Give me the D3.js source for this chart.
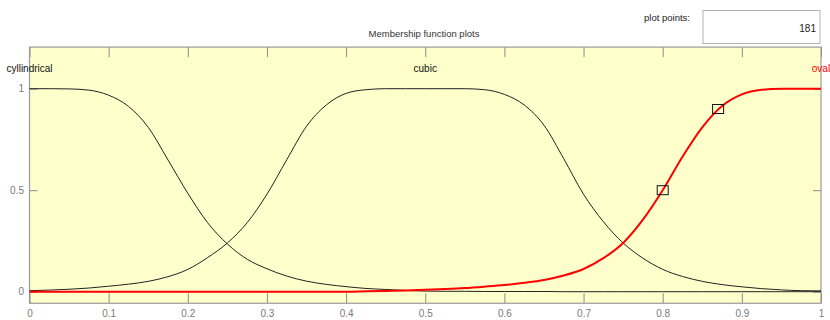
<!DOCTYPE html>
<html>
<head>
<meta charset="utf-8">
<script src="https://cdn.jsdelivr.net/npm/d3@7"></script>
<style>
  html, body { margin: 0; padding: 0; background: #ffffff; }
  svg { display: block; font-family: "Liberation Sans", Arial, sans-serif; }
</style>
</head>
<body>
<svg id="chart" width="830" height="320"></svg>
<script>
// ---- data ----
const xs = [0, 0.025, 0.05, 0.075, 0.1, 0.125, 0.15, 0.175, 0.2, 0.225, 0.25, 0.275, 0.3, 0.325, 0.35, 0.375, 0.4,
            0.425, 0.45, 0.475, 0.5, 0.525, 0.55, 0.575, 0.6, 0.625, 0.65, 0.675, 0.7, 0.725, 0.75, 0.775, 0.8,
            0.825, 0.85, 0.875, 0.9, 0.925, 0.95, 0.975, 1];
const cylindrical = [1, 1, 0.999, 0.993, 0.968, 0.913, 0.81, 0.649, 0.485, 0.34, 0.235, 0.16, 0.113, 0.077, 0.052, 0.036, 0.025,
                     0.016, 0.011, 0.006, 0.003, 0.002, 0.002, 0.001, 0.001, 0.001, 0.001, 0, 0, 0, 0, 0, 0,
                     0, 0, 0, 0, 0, 0, 0, 0];
const cubic = [0.005, 0.008, 0.012, 0.018, 0.027, 0.037, 0.051, 0.074, 0.11, 0.168, 0.24, 0.34, 0.48, 0.65, 0.815, 0.92, 0.977,
               0.995, 1, 1, 1, 1, 1, 0.995, 0.972, 0.92, 0.82, 0.655, 0.48, 0.345, 0.24, 0.165, 0.11,
               0.075, 0.051, 0.035, 0.024, 0.015, 0.009, 0.005, 0.004];
const oval = [0, 0, 0, 0, 0, 0, 0, 0, 0, 0, 0, 0, 0, 0, 0, 0, 0,
              0.002, 0.004, 0.006, 0.009, 0.013, 0.018, 0.025, 0.033, 0.044, 0.058, 0.08, 0.112, 0.165, 0.24, 0.355, 0.5,
              0.665, 0.81, 0.915, 0.972, 0.995, 1, 1, 1];
const mfNames = ["cyllindrical", "cubic", "oval"];
const mfCenters = [0, 0.5, 1];
const ovalMarkers = [[0.8, 0.5], [0.87, 0.9]];
const xTicks = [0, 0.1, 0.2, 0.3, 0.4, 0.5, 0.6, 0.7, 0.8, 0.9, 1];
const xTickLabels = ["0", "0.1", "0.2", "0.3", "0.4", "0.5", "0.6", "0.7", "0.8", "0.9", "1"];
const yTicks = [0, 0.5, 1];
const yTickLabels = ["0", "0.5", "1"];
const plotPoints = "181";

// ---- layout ----
const svg = d3.select("#chart");
const x = d3.scaleLinear().domain([0, 1]).range([29.5, 821]);
const y = d3.scaleLinear().domain([0, 1]).range([291.7, 88.7]);
const yTopVal = 1.205, yBotVal = -0.057;
const pL = x(0), pR = x(1), pT = y(yTopVal), pB = y(yBotVal);

// title
svg.append("text").attr("x", 424).attr("y", 37).attr("text-anchor", "middle")
  .attr("font-size", 9.5).attr("fill", "#333").text("Membership function plots");

// plot points box
svg.append("text").attr("x", 690).attr("y", 21).attr("text-anchor", "end")
  .attr("font-size", 9.5).attr("fill", "#222").text("plot points:");
svg.append("rect").attr("x", 703).attr("y", 10.5).attr("width", 117).attr("height", 33)
  .attr("fill", "#fff").attr("stroke", "#b4b4b4");
svg.append("text").attr("x", 816).attr("y", 32).attr("text-anchor", "end")
  .attr("font-size", 10).attr("fill", "#222").text(plotPoints);

// plot background
svg.append("rect").attr("x", pL).attr("y", pT).attr("width", pR - pL).attr("height", pB - pT)
  .attr("fill", "#ffffcc");

// axes
const tickColor = "#8c8c8c";
function styleAxis(g) {
  g.select(".domain").remove();
  g.selectAll("line").attr("stroke", tickColor);
  g.selectAll("text").attr("fill", "#7a7a7a").attr("font-size", 10)
    .attr("font-family", '"Liberation Sans", Arial, sans-serif');
}
svg.append("g").attr("transform", `translate(0,${pB})`)
  .call(d3.axisBottom(x).tickValues(xTicks).tickFormat((d, i) => xTickLabels[i]).tickSize(-10).tickPadding(6.5))
  .call(styleAxis);
svg.append("g").attr("transform", `translate(0,${pT})`)
  .call(d3.axisTop(x).tickValues(xTicks).tickFormat("").tickSize(-10))
  .call(styleAxis);
svg.append("g").attr("transform", `translate(${pL},0)`)
  .call(d3.axisLeft(y).tickValues(yTicks).tickFormat((d, i) => yTickLabels[i]).tickSize(-8).tickPadding(5.5))
  .call(styleAxis);
svg.append("g").attr("transform", `translate(${pR},0)`)
  .call(d3.axisRight(y).tickValues(yTicks).tickFormat("").tickSize(-8))
  .call(styleAxis);

// box
svg.append("rect").attr("x", pL).attr("y", pT).attr("width", pR - pL).attr("height", pB - pT)
  .attr("fill", "none").attr("stroke", "#9a9a9a").attr("stroke-width", 1.2);

// curves
const line = d3.line().x(d => x(d[0])).y(d => y(d[1])).curve(d3.curveMonotoneX);
const series = [
  { vals: cylindrical, color: "#222", width: 1 },
  { vals: cubic, color: "#222", width: 1 },
  { vals: oval, color: "#ff0000", width: 2 }
];
series.forEach(s => {
  svg.append("path").datum(xs.map((v, i) => [v, s.vals[i]]))
    .attr("d", line).attr("fill", "none").attr("stroke", s.color).attr("stroke-width", s.width)
    .attr("stroke-linejoin", "round");
});

// markers on selected MF
svg.selectAll("rect.marker").data(ovalMarkers).enter().append("rect").attr("class", "marker")
  .attr("x", d => x(d[0]) - 5.5).attr("y", d => y(d[1]) - 4.5).attr("width", 11).attr("height", 9)
  .attr("fill", "none").attr("stroke", "#111").attr("stroke-width", 1);

// MF name labels
svg.selectAll("text.mf").data(mfNames).enter().append("text").attr("class", "mf")
  .attr("x", (d, i) => x(mfCenters[i])).attr("y", y(1.1)).attr("dy", "0.35em")
  .attr("text-anchor", "middle").attr("font-size", 10)
  .attr("fill", (d, i) => i === 2 ? "#ff0000" : "#111").text(d => d);
</script>
</body>
</html>
